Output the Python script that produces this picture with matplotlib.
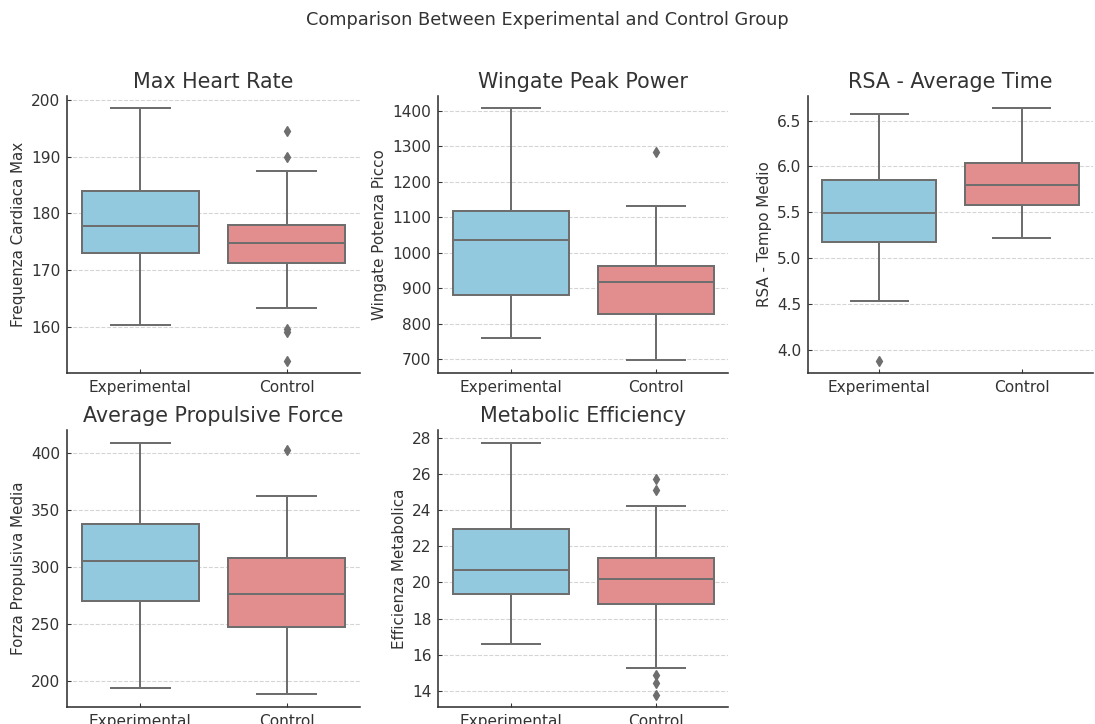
import numpy as np
import matplotlib
matplotlib.use("Agg")
import matplotlib.pyplot as plt

groups = ["Experimental", "Control"]

titles = ["Max Heart Rate", "Wingate Peak Power", "RSA - Average Time",
          "Average Propulsive Force", "Metabolic Efficiency"]
ylabels = ["Frequenza Cardiaca Max", "Wingate Potenza Picco", "RSA - Tempo Medio",
           "Forza Propulsiva Media", "Efficienza Metabolica"]

# box stats per panel: [experimental, control] -> (whislo, q1, med, q3, whishi)
hr_stats = [(160.4, 173.1, 177.8, 184.0, 198.5), (163.3, 171.2, 174.8, 177.9, 187.5)]
hr_fliers = [[], [194.6, 190.0, 159.7, 159.1, 154.0]]

wg_stats = [(760, 881, 1035, 1118, 1407), (697, 827, 917, 963, 1132)]
wg_fliers = [[], [1285]]

rsa_stats = [(4.53, 5.17, 5.49, 5.85, 6.57), (5.22, 5.58, 5.80, 6.04, 6.64)]
rsa_fliers = [[3.88], []]

pf_stats = [(194.1, 270.1, 305.6, 337.8, 409.4), (188.3, 247.2, 276.8, 307.6, 362.5)]
pf_fliers = [[], [402.9]]

me_stats = [(16.58, 19.33, 20.70, 22.96, 27.70), (15.29, 18.83, 20.20, 21.32, 24.20)]
me_fliers = [[], [25.69, 25.12, 14.90, 14.46, 13.80]]

ylims = [(151.9, 200.7), (661, 1442), (3.744, 6.77), (177.1, 420.5), (13.11, 28.42)]
yticks = [[160, 170, 180, 190, 200], [700, 800, 900, 1000, 1100, 1200, 1300, 1400],
          [4.0, 4.5, 5.0, 5.5, 6.0, 6.5], [200, 250, 300, 350, 400],
          [14, 16, 18, 20, 22, 24, 26, 28]]

all_stats = [hr_stats, wg_stats, rsa_stats, pf_stats, me_stats]
all_fliers = [hr_fliers, wg_fliers, rsa_fliers, pf_fliers, me_fliers]

box_colors = ["#93C9DE", "#E28E8E"]
line_gray = "#6E6E6E"
text_col = "#333333"

plt.rcParams["font.family"] = "DejaVu Sans"
plt.rcParams["text.color"] = text_col
plt.rcParams["axes.labelcolor"] = text_col
plt.rcParams["xtick.color"] = text_col
plt.rcParams["ytick.color"] = text_col

fig = plt.figure(figsize=(1095 / 96, 724 / 96), dpi=96)

lefts = [67, 438, 808]
widths = [293, 290, 285]
tops = [96, 430]
h = 277

fig.suptitle("Comparison Between Experimental and Control Group", fontsize=13.3,
             y=1 - 20 / 724, va="center", color=text_col)

for i in range(5):
    row, col = divmod(i, 3)
    ax = fig.add_axes([lefts[col] / 1095, 1 - (tops[row] + h) / 724,
                       widths[col] / 1095, h / 724])
    stats = []
    for j in range(2):
        lo, q1, med, q3, hi = all_stats[i][j]
        stats.append(dict(whislo=lo, q1=q1, med=med, q3=q3, whishi=hi,
                          fliers=all_fliers[i][j], label=groups[j]))
    lw = 1.5
    bp = ax.bxp(stats, positions=[0, 1], widths=0.8, patch_artist=True,
                boxprops=dict(edgecolor=line_gray, linewidth=lw),
                medianprops=dict(color=line_gray, linewidth=lw),
                whiskerprops=dict(color=line_gray, linewidth=lw),
                capprops=dict(color=line_gray, linewidth=lw),
                flierprops=dict(marker="d", markerfacecolor=line_gray,
                                markeredgecolor=line_gray, markersize=5),
                capwidths=0.4)
    for patch, c in zip(bp["boxes"], box_colors):
        patch.set_facecolor(c)
    ax.set_xlim(-0.5, 1.5)
    ax.set_ylim(*ylims[i])
    ax.set_yticks(yticks[i])
    ax.set_xticks([0, 1])
    ax.set_xticklabels(groups)
    ax.tick_params(labelsize=11.5, length=3, width=0.8, direction="in")
    ax.tick_params(axis="both", pad=5)
    ax.set_title(titles[i], fontsize=15.5, color=text_col)
    ax.set_ylabel(ylabels[i], fontsize=11.3)
    ax.yaxis.grid(True, linestyle="--", color="#d4d4d4", linewidth=0.8)
    ax.set_axisbelow(True)
    for s in ["top", "right"]:
        ax.spines[s].set_visible(False)
    for s in ["left", "bottom"]:
        ax.spines[s].set_color(text_col)
        ax.spines[s].set_linewidth(1.2)

plt.savefig("out.png", dpi=96)
